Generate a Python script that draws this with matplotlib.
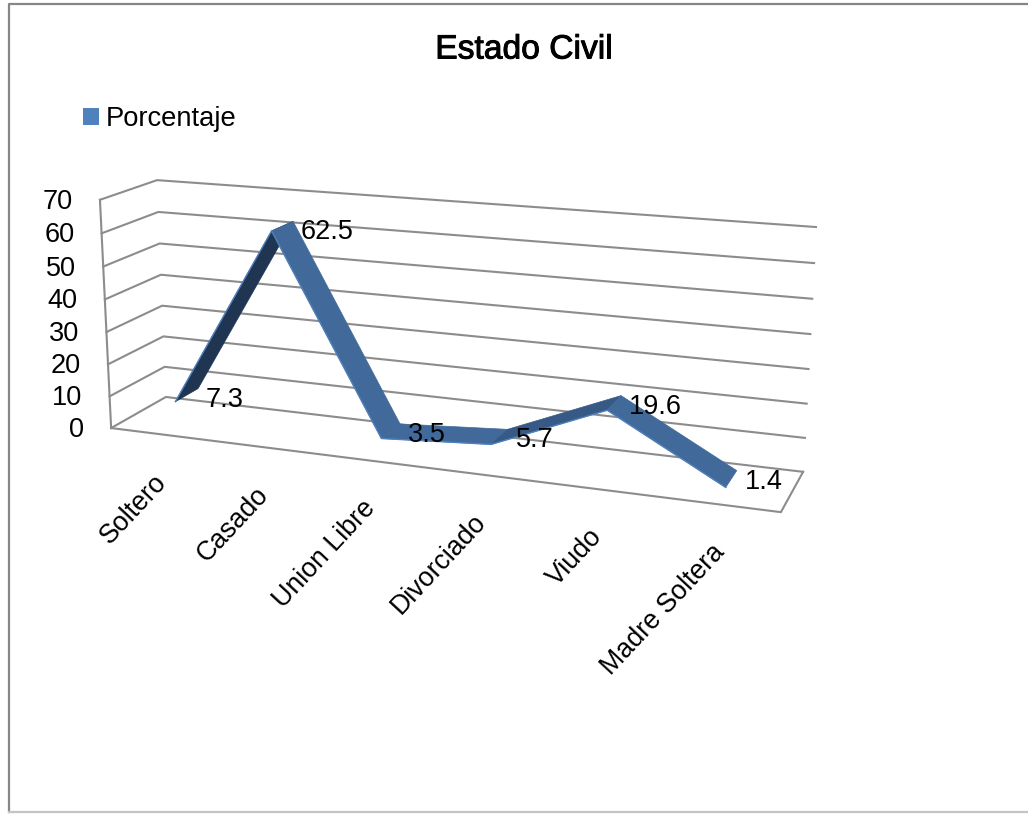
import numpy as np
import matplotlib
matplotlib.use('Agg')
import matplotlib.pyplot as plt
import matplotlib.patheffects as pe
from matplotlib.patches import Polygon, Patch
from matplotlib.transforms import Transform

plt.rcParams['font.family'] = ['Liberation Sans', 'DejaVu Sans']

## Data
categories = ['Soltero', 'Casado', 'Union Libre', 'Divorciado', 'Viudo', 'Madre Soltera']
porcentaje = [7.3, 62.5, 3.5, 5.7, 19.6, 1.4]
y_ticks = [0, 10, 20, 30, 40, 50, 60, 70]

## Box corners as seen in the picture: (category, value, depth) -> pixel
box_3d = np.array([[-.5, 70, 1], [5.5, 70, 1], [-.5, 0, 1], [5.5, 0, 1],
                   [-.5, 0, 0], [-.5, 70, 0], [5.5, 0, 0]], dtype=float)
box_px = np.array([[157, 180], [816, 227], [166, 397], [803, 472],
                   [111, 428], [100, 200], [781, 512]], dtype=float)

# camera matrix from the corners
rows = []
rhs = []
for (a, b, c), (px, py) in zip(box_3d, box_px):
    rows.append([a, b, c, 1, 0, 0, 0, 0, -a*px, -b*px, -c*px])
    rows.append([0, 0, 0, 0, a, b, c, 1, -a*py, -b*py, -c*py])
    rhs += [px, py]
cam = np.linalg.lstsq(np.array(rows), np.array(rhs), rcond=None)[0]
cam = np.append(cam, 1).reshape(3, 4)


class Plane(Transform):
    # (category, value) at a fixed depth -> pixel
    input_dims = 2
    output_dims = 2

    def __init__(self, d):
        super().__init__()
        self.d = d

    def transform_non_affine(self, values):
        v = np.asarray(values, dtype=float)
        h = np.column_stack([v, np.full(len(v), self.d), np.ones(len(v))])
        p = h @ cam.T
        return p[:, :2] / p[:, 2:]


front = Plane(0.0)
back = Plane(1.0)
rib_front = Plane(0.29)
rib_back = Plane(0.72)

fig = plt.figure(figsize=(10.28, 8.14), dpi=100)
ax = fig.add_axes([0, 0, 1, 1])
ax.set_xlim(0, 1028)
ax.set_ylim(814, 0)
ax.axis('off')

## Chart frame
ax.plot([1028, 9, 9], [4, 4, 812], color='#868686', lw=1.6)
ax.plot([9, 1028], [812, 812], color='#C4C4C4', lw=1.6)

ax.text(524, 50, 'Estado Civil', fontsize=24.2, ha='center', va='center', color='black',
        path_effects=[pe.withStroke(linewidth=0.7, foreground='black')])

handle = Patch(fc='#4F81BD', ec='none')
ax.legend([handle], ['Porcentaje'], loc='center left', bbox_to_anchor=(0.057, 0.854),
          frameon=False, fontsize=19.7, handlelength=0.56, handleheight=0.56, handletextpad=0.25)

## Gridlines and box
x_left, x_right = -0.5, len(categories) - 0.5
grid = '#8C8C8C'
for t in y_ticks:
    p0 = front.transform([[x_left, t]])[0]
    p1 = back.transform([[x_left, t]])[0]
    p2 = back.transform([[x_right, t]])[0]
    ax.plot([p0[0], p1[0], p2[0]], [p0[1], p1[1], p2[1]], color=grid, lw=1.5, zorder=1)
    ax.text(p0[0] - 27, p0[1] + 2, str(t), fontsize=19.5, ha='right', va='center')

floor = [front.transform([[x_left, 0]])[0], front.transform([[x_right, 0]])[0],
         back.transform([[x_right, 0]])[0]]
ax.plot(*zip(*floor), color=grid, lw=1.5, zorder=1)
wall = [front.transform([[x_left, 0]])[0], front.transform([[x_left, 70]])[0]]
ax.plot(*zip(*wall), color=grid, lw=1.5, zorder=1)

## Ribbon
xs = np.arange(len(categories))
pts = np.column_stack([xs, porcentaje])
pf = rib_front.transform(pts)
pb = rib_back.transform(pts)
seg_colors = ['#1F3552', '#41699A', '#41699A', '#365A85', '#41699A']
for i in range(len(xs) - 1):
    poly = [pf[i], pf[i+1], pb[i+1], pb[i]]
    ax.add_patch(Polygon(poly, closed=True, fc=seg_colors[i], ec=seg_colors[i], lw=0.5, zorder=3))
ax.plot(pf[:, 0], pf[:, 1], color='#4F81BD', lw=1.0, zorder=4)

## Value labels
for i, val in enumerate(porcentaje):
    ax.annotate(str(val), xy=pb[i], xytext=(8, -11), textcoords='offset pixels',
                fontsize=19.5, ha='left', va='center', zorder=5)

## Category labels
base = front.transform(np.column_stack([xs, np.zeros(len(xs))]))
for (bx, by), name in zip(base, categories):
    ax.text(bx - 7, by + 35, name, fontsize=19.3, rotation=47, ha='right', va='top',
            rotation_mode='anchor')

fig.savefig('out.png', dpi=100)
